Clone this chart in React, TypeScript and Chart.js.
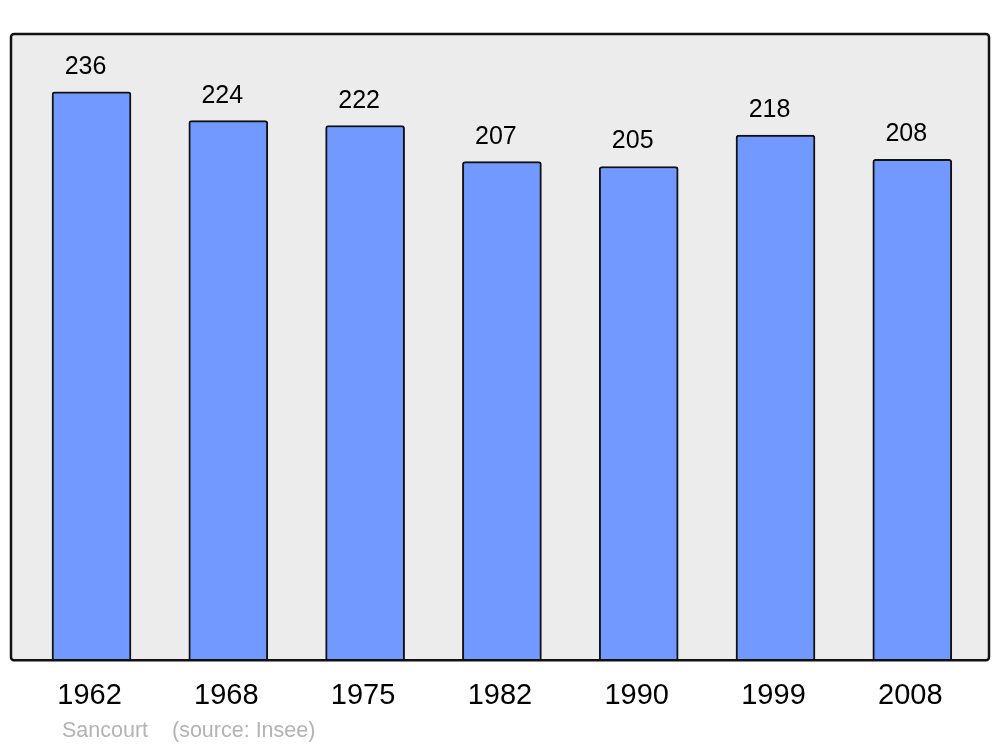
import React, { useEffect, useRef } from "react";
import { Chart, registerables } from "chart.js";

Chart.register(...registerables);

const years = ["1962", "1968", "1975", "1982", "1990", "1999", "2008"];
const population = [236, 224, 222, 207, 205, 218, 208];
const footerPlace = "Sancourt";
const footerSource = "(source: Insee)";

const FONT = "'Liberation Sans', Arial, sans-serif";

const framePlugin = {
  id: "frame",
  beforeDatasetsDraw(chart: any) {
    const { ctx, chartArea } = chart;
    const { left, top, right, bottom } = chartArea;
    ctx.save();
    ctx.beginPath();
    ctx.roundRect(left, top, right - left, bottom - top, 3);
    ctx.fillStyle = "#ececec";
    ctx.fill();
    ctx.restore();
  },
  afterDatasetsDraw(chart: any) {
    const { ctx, chartArea } = chart;
    const { left, top, right, bottom } = chartArea;
    ctx.save();
    ctx.beginPath();
    ctx.roundRect(left, top, right - left, bottom - top, 3);
    ctx.lineWidth = 2.5;
    ctx.strokeStyle = "#111111";
    ctx.stroke();
    // value labels
    const meta = chart.getDatasetMeta(0);
    ctx.fillStyle = "#000000";
    ctx.font = `25px ${FONT}`;
    ctx.textAlign = "center";
    ctx.textBaseline = "alphabetic";
    meta.data.forEach((bar: any, i: number) => {
      ctx.fillText(String(population[i]), bar.x - 6, bar.y - 18);
    });
    // footer
    ctx.fillStyle = "#b3b3b3";
    ctx.font = `21.5px ${FONT}`;
    ctx.textAlign = "left";
    ctx.fillText(footerPlace, 62, 737);
    ctx.fillText(footerSource, 172, 737);
    ctx.restore();
  },
};

export default function App() {
  const canvasRef = useRef<HTMLCanvasElement | null>(null);

  useEffect(() => {
    if (!canvasRef.current) return;
    const chart = new Chart(canvasRef.current, {
      type: "bar",
      data: {
        datasets: [
          {
            data: population.map((v, i) => ({ x: i, y: v })),
            backgroundColor: "#7299ff",
            borderColor: "#111111",
            borderWidth: 2,
            borderRadius: 3,
            borderSkipped: "bottom",
            barThickness: 79,
          },
        ],
      },
      options: {
        animation: false,
        responsive: false,
        maintainAspectRatio: false,
        layout: { padding: { left: 11, right: 11, top: 34, bottom: 16 } },
        plugins: {
          legend: { display: false },
          tooltip: { enabled: false },
          title: { display: false },
        },
        scales: {
          x: {
            type: "linear",
            offset: false,
            min: -0.5885,
            max: 6.5607,
            grid: { display: false, drawTicks: false, offset: false },
            border: { display: false },
            afterBuildTicks: (scale: any) => {
              scale.ticks = years.map((_, i) => ({ value: i }));
            },
            ticks: {
              padding: 18,
              labelOffset: -2,
              autoSkip: false,
              maxRotation: 0,
              color: "#000000",
              font: { family: FONT, size: 29 },
              callback: (v: any) => years[Math.round(Number(v))] ?? "",
            },
          },
          y: {
            display: false,
            min: 0,
            max: 260,
          },
        },
      },
      plugins: [framePlugin],
    });
    return () => chart.destroy();
  }, []);

  return (
    <div style={{ position: "absolute", left: 0, top: 0, width: 1000, height: 747, background: "#ffffff" }}>
      <canvas ref={canvasRef} width={1000} height={747} style={{ width: 1000, height: 747, display: "block" }} />
    </div>
  );
}
